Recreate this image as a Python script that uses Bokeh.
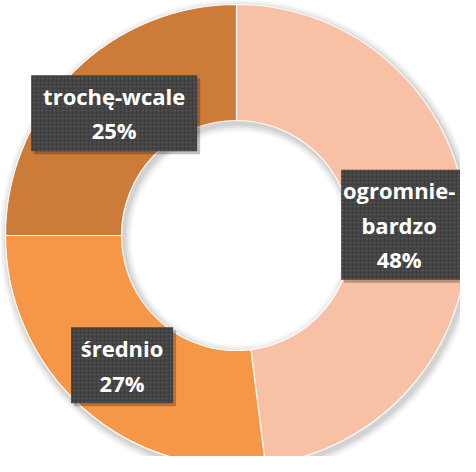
import math
from bokeh.plotting import figure
from bokeh.models import ColumnDataSource, Range1d
from bokeh.core.properties import value
from bokeh.embed import file_html
from bokeh.resources import INLINE

# ---- data ----
categories = ["ogromnie-\nbardzo", "średnio", "trochę-wcale"]
shares = [48, 27, 25]
colors = ["#F8C1A5", "#F59746", "#CD7B39"]

# ---- layout (pixels) ----
W, H = 460, 456
cx, cy = 236, 221
r_out, r_in = 231, 115

total = float(sum(shares))
starts, ends, mids = [], [], []
acc = 0.0
for v in shares:
    a0 = math.pi / 2 - 2 * math.pi * acc / total
    acc += v
    a1 = math.pi / 2 - 2 * math.pi * acc / total
    starts.append(a0)
    ends.append(a1)
    mids.append((a0 + a1) / 2)

r_lab = (r_out + r_in) / 2
lx = [cx + r_lab * math.cos(m) for m in mids]
ly = [cy + r_lab * math.sin(m) for m in mids]
text_dx = [-10, 0, 0]   # keep the right-hand label inside the canvas
tx = [x + d for x, d in zip(lx, text_dx)]
labels = [f"{c}\n{v}%" for c, v in zip(categories, shares)]
box_w = [136, 102, 166]
box_h = [110, 76, 76]

src = ColumnDataSource(dict(start=starts, end=ends, color=colors,
                            x=lx, y=ly, tx=tx, label=labels, bw=box_w, bh=box_h))

p = figure(width=W, height=H, output_backend="svg", toolbar_location=None,
           x_range=Range1d(0, W), y_range=Range1d(0, H), min_border=0)
p.axis.visible = False
p.grid.visible = False
p.outline_line_color = None
p.background_fill_color = "white"
p.border_fill_color = "white"

# soft shadow of the ring
for k, a in [(8, 0.03), (6, 0.04), (4, 0.05), (2, 0.06)]:
    p.annular_wedge(x=cx + 2, y=cy - 3, inner_radius=r_in - k, outer_radius=r_out + k,
                    start_angle=0, end_angle=2 * math.pi,
                    fill_color="black", fill_alpha=a, line_color=None)

p.annular_wedge(x=cx, y=cy, inner_radius=r_in, outer_radius=r_out,
                start_angle="start", end_angle="end", direction="clock",
                fill_color="color", line_color="white", line_width=1.2, source=src)

# label box shadows
sh = ColumnDataSource(dict(x=[v + 3 for v in lx], y=[v - 3 for v in ly], bw=box_w, bh=box_h))
p.rect(x="x", y="y", width="bw", height="bh", source=sh,
       fill_color="black", fill_alpha=0.25, line_color=None)

# label boxes
p.rect(x="x", y="y", width="bw", height="bh", source=src,
       fill_color="#404040", line_color=None,
       hatch_pattern="dot", hatch_color="#6a6a6a", hatch_alpha=0.6,
       hatch_scale=4, hatch_weight=1)

p.text(x="tx", y="y", text="label", source=src,
       text_font=value("Open Sans"), text_font_style="bold",
       text_font_size="22px", text_color="white",
       text_align="center", text_baseline="middle", text_line_height=1.15)

open("out.html", "w").write(file_html(p, INLINE))
